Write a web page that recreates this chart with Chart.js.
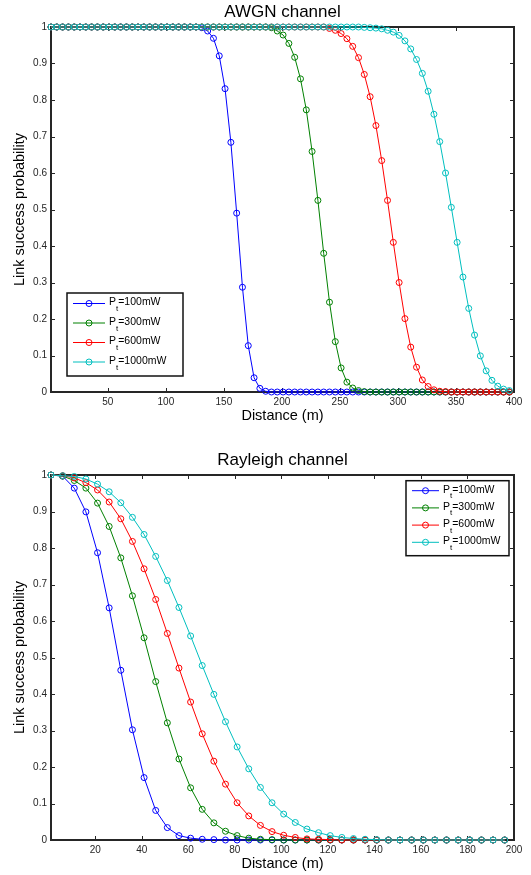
<!DOCTYPE html>
<html>
<head>
<meta charset="utf-8">
<script src="https://cdn.jsdelivr.net/npm/chart.js@4.4.0/dist/chart.umd.min.js"></script>
<style>
  body { margin: 0; background: #fff; }
  canvas { position: absolute; left: 0; }
</style>
</head>
<body>
<canvas id="awgn" width="531" height="430" style="top:0"></canvas>
<canvas id="rayleigh" width="531" height="445" style="top:430px"></canvas>
<script>
// distances (m) of the simulated points
const distAwgn = [1,6,11,16,21,26,31,36,41,46,51,56,61,66,71,76,81,86,91,96,
  101,106,111,116,121,126,131,136,141,146,151,156,161,166,171,176,181,186,191,196,
  201,206,211,216,221,226,231,236,241,246,251,256,261,266,271,276,281,286,291,296,
  301,306,311,316,321,326,331,336,341,346,351,356,361,366,371,376,381,386,391,396];
const distRayleigh = [1,6,11,16,21,26,31,36,41,46,51,56,61,66,71,76,81,86,91,96,
  101,106,111,116,121,126,131,136,141,146,151,156,161,166,171,176,181,186,191,196];

// AWGN link success probability
const awgn100 = [1,1,1,1,1,1,1,1,1,1, 1,1,1,1,1,1,1,1,1,1,
  1,1,1,1,1,1,0.998,0.989,0.969,0.921, 0.831,0.684,0.490,0.287,0.127,0.039,0.010,0.002,0,0,
  0,0,0,0,0,0,0,0,0,0, 0,0,0,0,0,0,0,0,0,0, 0,0,0,0,0,0,0,0,0,0, 0,0,0,0,0,0,0,0,0,0];
const awgn300 = [1,1,1,1,1,1,1,1,1,1, 1,1,1,1,1,1,1,1,1,1,
  1,1,1,1,1,1,1,1,1,1, 1,1,1,1,1,1,1,1,0.998,0.989,
  0.978,0.955,0.917,0.858,0.773,0.659,0.525,0.380,0.246,0.138, 0.066,0.027,0.011,0.004,0.001,0,0,0,0,0,
  0,0,0,0,0,0,0,0,0,0, 0,0,0,0,0,0,0,0,0,0];
const awgn600 = [1,1,1,1,1,1,1,1,1,1, 1,1,1,1,1,1,1,1,1,1,
  1,1,1,1,1,1,1,1,1,1, 1,1,1,1,1,1,1,1,1,1,
  1,1,1,1,1,1,1,1,0.996,0.991, 0.982,0.968,0.947,0.916,0.870,0.809,0.730,0.634,0.525,0.410,
  0.300,0.201,0.123,0.068,0.033,0.015,0.006,0.002,0.001,0, 0,0,0,0,0,0,0,0,0,0];
const awgn1000 = [1,1,1,1,1,1,1,1,1,1, 1,1,1,1,1,1,1,1,1,1,
  1,1,1,1,1,1,1,1,1,1, 1,1,1,1,1,1,1,1,1,1,
  1,1,1,1,1,1,1,1,1,1, 1,1,1,1,0.999,0.998,0.997,0.995,0.991,0.986,
  0.977,0.962,0.940,0.911,0.873,0.824,0.761,0.686,0.600,0.506,
  0.410,0.315,0.229,0.156,0.099,0.058,0.032,0.016,0.008,0.004];

// Rayleigh link success probability
const ray100 = [1,0.997,0.964,0.899,0.787,0.636,0.465,0.302,0.171,0.081,
  0.034,0.012,0.005,0.002,0.001,0,0,0,0,0, 0,0,0,0,0,0,0,0,0,0, 0,0,0,0,0,0,0,0,0,0];
const ray300 = [1,0.997,0.985,0.964,0.923,0.859,0.773,0.669,0.554,0.434,
  0.321,0.222,0.143,0.084,0.047,0.024,0.012,0.005,0.002,0.001, 0,0,0,0,0,0,0,0,0,0, 0,0,0,0,0,0,0,0,0,0];
const ray600 = [1,0.998,0.992,0.979,0.959,0.926,0.880,0.818,0.743,0.659,
  0.566,0.471,0.378,0.291,0.216,0.153,0.102,0.066,0.040,0.023,
  0.013,0.007,0.003,0.002,0.001,0,0,0,0,0, 0,0,0,0,0,0,0,0,0,0];
const ray1000 = [1,0.998,0.996,0.989,0.975,0.954,0.924,0.884,0.837,0.777,
  0.711,0.637,0.559,0.478,0.399,0.324,0.255,0.195,0.144,0.102,
  0.071,0.048,0.030,0.020,0.012,0.007,0.004,0.002,0.001,0, 0,0,0,0,0,0,0,0,0,0];

const powers = ['100', '300', '600', '1000'];
const colors = ['#0000ff', '#008000', '#ff0000', '#00bfbf'];
const xTicksAwgn = [50,100,150,200,250,300,350,400];
const xTicksRayleigh = [20,40,60,80,100,120,140,160,180,200];
const yTicks = [0,0.1,0.2,0.3,0.4,0.5,0.6,0.7,0.8,0.9,1];

const FONT = '"Liberation Sans", Arial, Helvetica, sans-serif';
const AXIS = '#262626';

// matlab style box, inward ticks, title, labels and legend
const frame = {
  id: 'frame',
  beforeDatasetsDraw(chart, args, opts) {
    const ctx = chart.ctx, a = chart.chartArea;
    const xs = chart.scales.x, ys = chart.scales.y;
    ctx.save();
    ctx.strokeStyle = AXIS;
    ctx.lineWidth = 1;
    ctx.beginPath();
    opts.xTicks.forEach(v => {
      const p = Math.round(xs.getPixelForValue(v)) + 0.5;
      ctx.moveTo(p, a.bottom); ctx.lineTo(p, a.bottom - 4);
      ctx.moveTo(p, a.top); ctx.lineTo(p, a.top + 4);
    });
    yTicks.forEach(v => {
      const p = Math.round(ys.getPixelForValue(v)) + 0.5;
      ctx.moveTo(a.left, p); ctx.lineTo(a.left + 4, p);
      ctx.moveTo(a.right, p); ctx.lineTo(a.right - 4, p);
    });
    ctx.stroke();
    ctx.lineWidth = 2;
    ctx.strokeRect(a.left, a.top, a.right - a.left, a.bottom - a.top);
    ctx.restore();
  },
  afterDraw(chart, args, opts) {
    const ctx = chart.ctx, a = chart.chartArea;
    const cx = (a.left + a.right) / 2;
    ctx.save();
    ctx.fillStyle = '#000';
    ctx.textAlign = 'center';
    ctx.textBaseline = 'alphabetic';
    ctx.font = '17px ' + FONT;
    ctx.fillText(opts.title, cx, a.top - 9.7);
    ctx.font = '14.5px ' + FONT;
    ctx.fillText('Distance (m)', cx, a.bottom + 27.7);
    ctx.save();
    ctx.translate(19.5, (a.top + a.bottom) / 2);
    ctx.rotate(-Math.PI / 2);
    ctx.textBaseline = 'middle';
    ctx.fillText('Link success probability', 0, 0);
    ctx.restore();

    // legend
    const L = opts.legend;
    ctx.fillStyle = '#fff';
    ctx.fillRect(L.x, L.y, L.w, L.h);
    ctx.strokeStyle = '#111';
    ctx.lineWidth = 1.5;
    ctx.strokeRect(L.x, L.y, L.w, L.h);
    chart.data.datasets.forEach((ds, i) => {
      const y = L.row0 + i * L.step;
      ctx.strokeStyle = ds.borderColor;
      ctx.lineWidth = 1;
      ctx.beginPath();
      ctx.moveTo(L.lineX0, y); ctx.lineTo(L.lineX1, y);
      ctx.stroke();
      ctx.beginPath();
      ctx.arc((L.lineX0 + L.lineX1) / 2, y, 3, 0, Math.PI * 2);
      ctx.stroke();
      ctx.fillStyle = '#000';
      ctx.textAlign = 'left';
      ctx.textBaseline = 'alphabetic';
      let tx = L.textX;
      ctx.font = '10.5px ' + FONT;
      ctx.fillText('P', tx, y + 1.8);
      tx += ctx.measureText('P').width;
      ctx.font = '8px ' + FONT;
      ctx.fillText('t', tx, y + 7.5);
      tx += ctx.measureText('t').width;
      ctx.font = '10.5px ' + FONT;
      ctx.fillText('=' + powers[i] + 'mW', tx, y + 1.8);
    });
    ctx.restore();
  }
};

function makeChart(id, dist, series, xMax, xTicks, title, legend, axisH) {
  const datasets = series.map((vals, i) => ({
    label: 'Pt=' + powers[i] + 'mW',
    data: dist.map((d, k) => ({ x: d, y: vals[k] })),
    borderColor: colors[i],
    backgroundColor: 'rgba(0,0,0,0)',
    borderWidth: 1,
    pointRadius: 3,
    pointBorderWidth: 1,
    pointBackgroundColor: 'rgba(0,0,0,0)',
    pointBorderColor: colors[i],
    tension: 0,
    clip: false,
    order: series.length - 1 - i
  }));
  const tickFont = { family: FONT, size: 10 };
  return new Chart(document.getElementById(id), {
    type: 'line',
    data: { datasets: datasets },
    options: {
      responsive: false,
      animation: false,
      events: [],
      layout: { padding: { left: 0, right: 17, top: legend.top, bottom: 0 } },
      scales: {
        x: {
          type: 'linear', min: 1, max: xMax,
          grid: { display: false, drawTicks: false },
          border: { display: false },
          ticks: { font: tickFont, color: AXIS, padding: 4, maxRotation: 0, autoSkip: false,
            callback: v => String(v) },
          afterBuildTicks: s => { s.ticks = xTicks.map(v => ({ value: v })); },
          afterFit: s => { s.height = axisH; }
        },
        y: {
          type: 'linear', min: 0, max: 1,
          grid: { display: false, drawTicks: false },
          border: { display: false },
          ticks: { font: tickFont, color: AXIS, padding: 4,
            callback: v => String(Math.round(v * 10) / 10) },
          afterBuildTicks: s => { s.ticks = yTicks.map(v => ({ value: v })); },
          afterFit: s => { s.width = 51; }
        }
      },
      plugins: {
        legend: { display: false },
        tooltip: { enabled: false },
        frame: { title: title, xTicks: xTicks, legend: legend }
      }
    },
    plugins: [frame]
  });
}

makeChart('awgn', distAwgn, [awgn100, awgn300, awgn600, awgn1000], 400, xTicksAwgn,
  'AWGN channel',
  { top: 27, x: 67, y: 293, w: 116, h: 83, row0: 303.5, step: 19.5, lineX0: 73, lineX1: 105, textX: 109 },
  38);

makeChart('rayleigh', distRayleigh, [ray100, ray300, ray600, ray1000], 200, xTicksRayleigh,
  'Rayleigh channel',
  { top: 45, x: 406, y: 50.7, w: 103, h: 75, row0: 60.7, step: 17.2, lineX0: 412, lineX1: 439, textX: 443 },
  35);
</script>
</body>
</html>
